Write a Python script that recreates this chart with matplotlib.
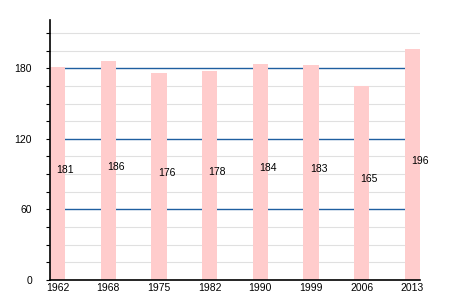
import matplotlib
matplotlib.use("Agg")
import matplotlib.pyplot as plt
import numpy as np

years = ["1962", "1968", "1975", "1982", "1990", "1999", "2006", "2013"]
values = [181, 186, 176, 178, 184, 183, 165, 196]
major_ticks = [0, 60, 120, 180]

plt.rcParams['font.family'] = ['Liberation Sans', 'DejaVu Sans']
fig = plt.figure(figsize=(4.5, 3), dpi=100)
ax = fig.add_axes([50/450, 20/300, 370/450, 260/300])

x = np.arange(len(years))
w = 0.3
for v in np.arange(15, 225, 15):
    if v % 60 != 0:
        ax.axhline(v, color='#e0e0e0', lw=0.8, zorder=0)
for v in major_ticks[1:]:
    ax.axhline(v, color='#1f5fa0', lw=1.0, zorder=1)
ax.bar(x, values, width=w, color='#ffcccc', zorder=2)
for xi, v in zip(x, values):
    ax.text(xi + w/2, v/2 + 3, str(v), ha='center', va='center', fontsize=7.5, zorder=3)

ax.set_xlim(-w/2, len(years) - 1 + w/2)
ax.set_ylim(0, 221)
ax.set_xticks(x)
ax.set_xticklabels(years, fontsize=7.5)
ax.set_yticks(major_ticks)
ax.set_yticklabels([str(t) for t in major_ticks], fontsize=7.5)
ax.set_yticks(np.arange(0, 225, 15), minor=True)
ax.tick_params(axis='x', length=0, pad=2)
ax.tick_params(axis='y', which='both', length=3, width=0.8, pad=10)
for s in ['top', 'right']:
    ax.spines[s].set_visible(False)
ax.spines['left'].set_linewidth(1.2)
ax.spines['bottom'].set_linewidth(1.2)
fig.savefig("out.png", dpi=100)
